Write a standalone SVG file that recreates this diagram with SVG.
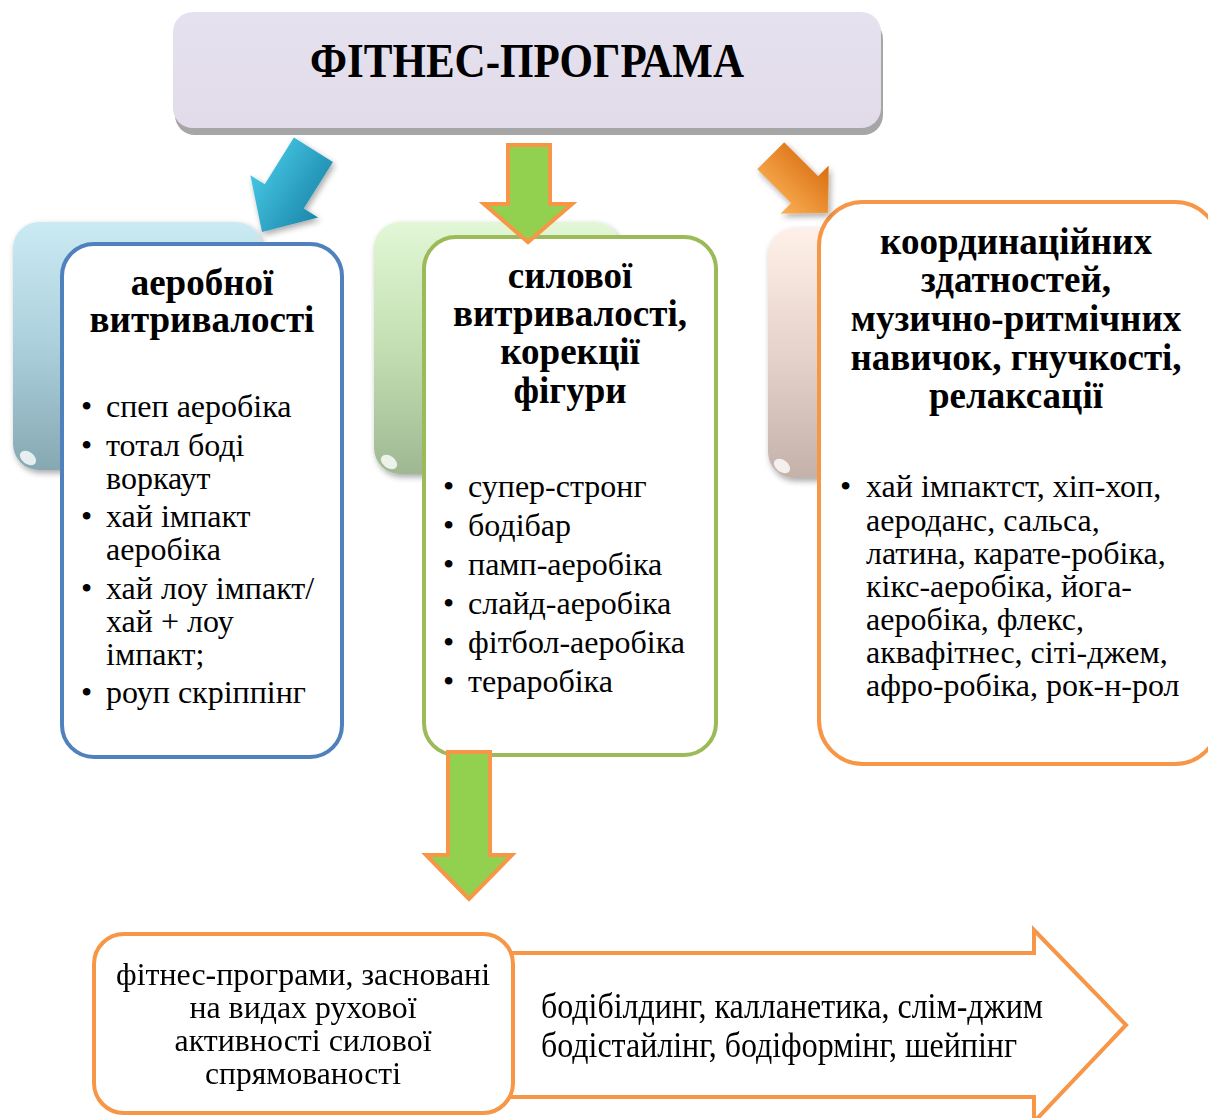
<svg xmlns="http://www.w3.org/2000/svg" width="1208" height="1118" viewBox="0 0 1208 1118">
<style>
text{font-family:"Liberation Serif","Times New Roman",serif;fill:#000}
.t{font-size:37px;font-weight:bold;text-anchor:middle}
.b{font-size:32px}
.c{font-size:35px}
.d{font-size:31px}
.front{fill:#fff;stroke-width:4}
</style>
<defs>
<linearGradient id="gBlue" x1="0" y1="0" x2="0" y2="1"><stop offset="0" stop-color="#cbeaf3"/><stop offset="0.5" stop-color="#abd0dc"/><stop offset="1" stop-color="#86a8b3"/></linearGradient>
<linearGradient id="gGreen" x1="0" y1="0" x2="0" y2="1"><stop offset="0" stop-color="#e2f7d6"/><stop offset="0.5" stop-color="#c3dfb2"/><stop offset="1" stop-color="#9fb893"/></linearGradient>
<linearGradient id="gPink" x1="0" y1="0" x2="0" y2="1"><stop offset="0" stop-color="#fef0e8"/><stop offset="0.5" stop-color="#e6d3cb"/><stop offset="1" stop-color="#c4b1aa"/></linearGradient>
<linearGradient id="gTop" x1="0" y1="0" x2="0" y2="1"><stop offset="0" stop-color="#e6e1ee"/><stop offset="1" stop-color="#e2dcea"/></linearGradient>
<linearGradient id="aBlue" x1="0" y1="0" x2="1" y2="0"><stop offset="0" stop-color="#45c6e4"/><stop offset="1" stop-color="#1c87aa"/></linearGradient>
<linearGradient id="aOrange" x1="0" y1="0" x2="1" y2="0"><stop offset="0" stop-color="#fbb055"/><stop offset="1" stop-color="#d86e10"/></linearGradient>
<filter id="sh" x="-10%" y="-10%" width="130%" height="130%"><feGaussianBlur in="SourceAlpha" stdDeviation="3"/><feOffset dx="2" dy="3"/><feComponentTransfer><feFuncA type="linear" slope="0.35"/></feComponentTransfer><feMerge><feMergeNode/><feMergeNode in="SourceGraphic"/></feMerge></filter>
</defs>

<g id="top">
<rect x="175" y="19" width="708" height="116" rx="20" fill="#a6a6a6"/>
<rect x="173" y="12" width="708" height="116" rx="20" fill="url(#gTop)"/>
<text x="527" y="77" font-size="48" font-weight="bold" text-anchor="middle" textLength="434" lengthAdjust="spacingAndGlyphs">ФІТНЕС-ПРОГРАМА</text>
</g>

<g id="aerobic">
<rect x="13" y="222" width="249" height="248" rx="26" fill="url(#gBlue)" filter="url(#sh)"/>
<ellipse cx="28" cy="458" rx="9" ry="6" fill="#fff" opacity="0.8" transform="rotate(35 28 458)"/>
<rect class="front" x="62" y="244" width="280" height="513" rx="32" stroke="#4f81bd"/>
<text class="t" x="202" y="295">аеробної</text>
<text class="t" x="202" y="332">витривалості</text>
<g class="b">
<text x="81" y="417">•</text><text x="106" y="417">спеп аеробіка</text>
<text x="81" y="456">•</text><text x="106" y="456">тотал боді</text>
<text x="106" y="489">воркаут</text>
<text x="81" y="527">•</text><text x="106" y="527">хай імпакт</text>
<text x="106" y="560">аеробіка</text>
<text x="81" y="599">•</text><text x="106" y="599">хай лоу імпакт/</text>
<text x="106" y="632">хай + лоу</text>
<text x="106" y="665">імпакт;</text>
<text x="81" y="703">•</text><text x="106" y="703">роуп скріппінг</text>
</g>
</g>

<g id="strength">
<rect x="374" y="222" width="246" height="252" rx="26" fill="url(#gGreen)" filter="url(#sh)"/>
<ellipse cx="389" cy="462" rx="9" ry="6" fill="#fff" opacity="0.8" transform="rotate(35 389 462)"/>
<rect class="front" x="424" y="237" width="292" height="518" rx="32" stroke="#9bbb59"/>
<text class="t" x="570" y="288">силової</text>
<text class="t" x="570" y="326">витривалості,</text>
<text class="t" x="570" y="364">корекції</text>
<text class="t" x="570" y="403">фігури</text>
<g class="b">
<text x="443" y="497">•</text><text x="468" y="497">супер-стронг</text>
<text x="443" y="536">•</text><text x="468" y="536">бодібар</text>
<text x="443" y="575">•</text><text x="468" y="575">памп-аеробіка</text>
<text x="443" y="614">•</text><text x="468" y="614">слайд-аеробіка</text>
<text x="443" y="653">•</text><text x="468" y="653">фітбол-аеробіка</text>
<text x="443" y="692">•</text><text x="468" y="692">тераробіка</text>
</g>
</g>

<g id="coordination">
<rect x="768" y="228" width="120" height="250" rx="26" fill="url(#gPink)" filter="url(#sh)"/>
<ellipse cx="782" cy="466" rx="9" ry="6" fill="#fff" opacity="0.8" transform="rotate(35 782 466)"/>
<rect class="front" x="819" y="202" width="400" height="562" rx="44" stroke="#f79646"/>
<text class="t" x="1016" y="254">координаційних</text>
<text class="t" x="1016" y="292">здатностей,</text>
<text class="t" x="1016" y="331">музично-ритмічних</text>
<text class="t" x="1016" y="370">навичок, гнучкості,</text>
<text class="t" x="1016" y="408">релаксації</text>
<g class="b">
<text x="840" y="497">•</text><text x="866" y="497">хай імпактст, хіп-хоп,</text>
<text x="866" y="531">аероданс, сальса,</text>
<text x="866" y="564">латина, карате-робіка,</text>
<text x="866" y="597">кікс-аеробіка, йога-</text>
<text x="866" y="630">аеробіка, флекс,</text>
<text x="866" y="663">аквафітнес, сіті-джем,</text>
<text x="866" y="696">афро-робіка, рок-н-рол</text>
</g>
</g>

<g id="connectors">
<g filter="url(#sh)">
<polygon transform="translate(262,232) rotate(32)" points="-23,-97 23,-97 23,-42 40,-42 0,0 -40,-42 -23,-42" fill="url(#aBlue)"/>
<polygon transform="translate(828,213) rotate(-45)" points="-19,-81 19,-81 19,-33 34,-33 0,0 -34,-33 -19,-33" fill="url(#aOrange)"/>
</g>
<polygon points="508,145 550,145 550,204 572,204 528,242 484,204 508,204" fill="#92d050" stroke="#f79646" stroke-width="4"/>
<polygon points="448,752 490,752 490,855 512,855 469,899 426,855 448,855" fill="#92d050" stroke="#f79646" stroke-width="4"/>
</g>

<g id="examples">
<polygon points="480,953 1034,953 1034,930 1126,1025 1034,1122 1034,1097 480,1097" fill="#fff" stroke="#f79646" stroke-width="4"/>
<text class="c" x="541" y="1018" textLength="502" lengthAdjust="spacingAndGlyphs">бодібілдинг, калланетика, слім-джим</text>
<text class="c" x="541" y="1057" textLength="476" lengthAdjust="spacingAndGlyphs">бодістайлінг, бодіформінг, шейпінг</text>
</g>

<g id="strength-programs">
<rect class="front" x="94" y="934" width="419" height="179" rx="30" stroke="#f79646"/>
<g class="d" text-anchor="middle">
<text x="303" y="985" textLength="374" lengthAdjust="spacingAndGlyphs">фітнес-програми, засновані</text>
<text x="303" y="1018" textLength="227" lengthAdjust="spacingAndGlyphs">на видах рухової</text>
<text x="303" y="1051" textLength="257" lengthAdjust="spacingAndGlyphs">активності силової</text>
<text x="303" y="1084" textLength="196" lengthAdjust="spacingAndGlyphs">спрямованості</text>
</g>
</g>
</svg>
